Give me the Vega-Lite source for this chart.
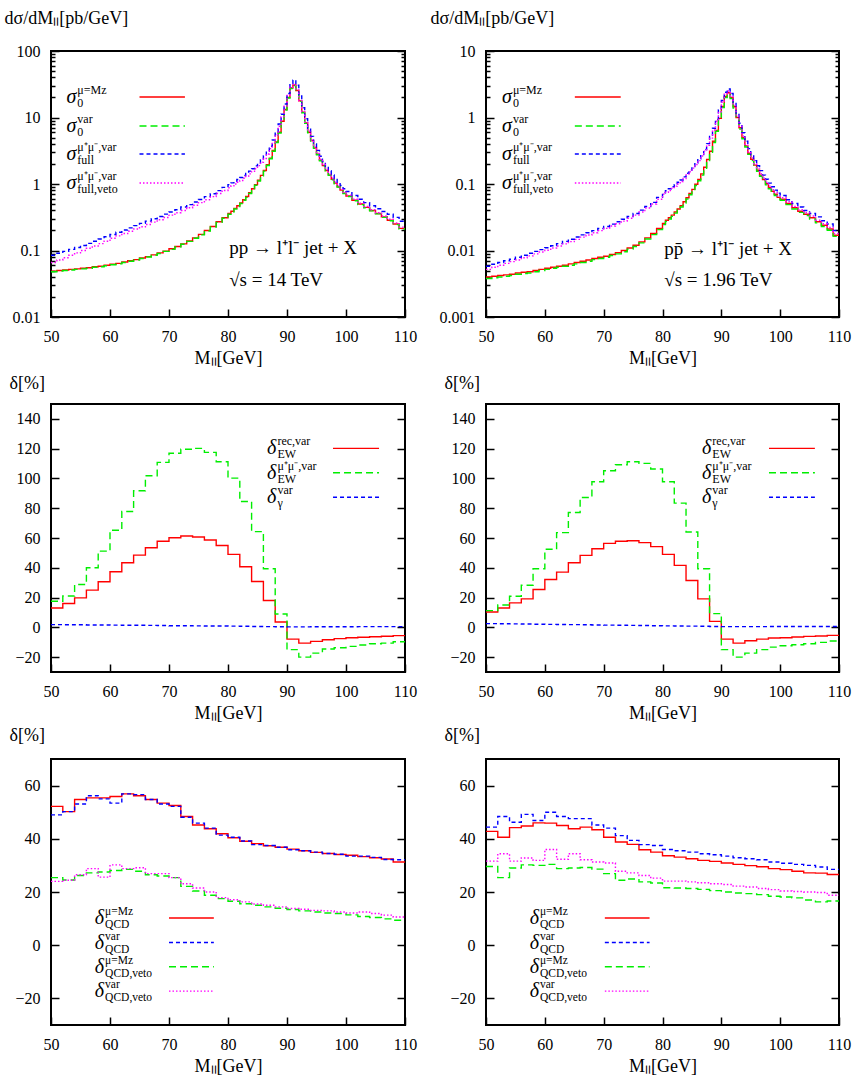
{
"$schema":"https://vega.github.io/schema/vega-lite/v6.json",
"padding":{"left":3,"top":8,"right":5,"bottom":5},
"background":"white",
"config":{
 "font":"Liberation Serif",
 "view":{"stroke":"#000","strokeWidth":2},
 "axis":{"domain":false,"grid":false,"tickColor":"#000","tickWidth":1.5,"tickSize":-8,"labelPadding":19,"labelFont":"Liberation Serif","labelFontSize":16,"labelColor":"#000","labelFlush":false,"labelOverlap":false,"titleFont":"Liberation Serif","titleFontSize":18,"titleFontWeight":"normal","titleColor":"#000"},
 "axisX":{"titlePadding":5},
 "axisY":{"titleAngle":0,"titleAlign":"left","titleBaseline":"middle"},
 "text":{"color":"#000"}
},
"datasets":{
"tl":[
{"x":50,"r":0.049,"g":0.048,"b":0.085,"m":0.066},{"x":51,"r":0.050,"g":0.049,"b":0.091,"m":0.072},{"x":52,"r":0.051,"g":0.050,"b":0.097,"m":0.078},{"x":53,"r":0.052,"g":0.051,"b":0.104,"m":0.085},{"x":54,"r":0.053,"g":0.052,"b":0.111,"m":0.092},{"x":55,"r":0.054,"g":0.053,"b":0.119,"m":0.100},{"x":56,"r":0.055,"g":0.054,"b":0.128,"m":0.108},{"x":57,"r":0.057,"g":0.056,"b":0.138,"m":0.117},{"x":58,"r":0.058,"g":0.057,"b":0.149,"m":0.127},{"x":59,"r":0.060,"g":0.059,"b":0.161,"m":0.138},
{"x":60,"r":0.062,"g":0.061,"b":0.174,"m":0.153},{"x":61,"r":0.064,"g":0.063,"b":0.188,"m":0.166},{"x":62,"r":0.067,"g":0.066,"b":0.203,"m":0.180},{"x":63,"r":0.070,"g":0.069,"b":0.219,"m":0.195},{"x":64,"r":0.073,"g":0.072,"b":0.237,"m":0.210},{"x":65,"r":0.077,"g":0.076,"b":0.256,"m":0.227},{"x":66,"r":0.081,"g":0.080,"b":0.277,"m":0.246},{"x":67,"r":0.086,"g":0.085,"b":0.300,"m":0.267},{"x":68,"r":0.092,"g":0.090,"b":0.325,"m":0.290},{"x":69,"r":0.098,"g":0.097,"b":0.352,"m":0.313},
{"x":70,"r":0.106,"g":0.104,"b":0.380,"m":0.340},{"x":71,"r":0.115,"g":0.113,"b":0.410,"m":0.370},{"x":72,"r":0.126,"g":0.124,"b":0.450,"m":0.400},{"x":73,"r":0.139,"g":0.137,"b":0.490,"m":0.440},{"x":74,"r":0.155,"g":0.153,"b":0.535,"m":0.480},{"x":75,"r":0.175,"g":0.172,"b":0.585,"m":0.525},{"x":76,"r":0.200,"g":0.196,"b":0.645,"m":0.580},{"x":77,"r":0.230,"g":0.226,"b":0.715,"m":0.645},{"x":78,"r":0.270,"g":0.265,"b":0.795,"m":0.720},{"x":79,"r":0.310,"g":0.305,"b":0.890,"m":0.800},
{"x":80,"r":0.36,"g":0.35,"b":0.98,"m":0.88},{"x":80.5,"r":0.39,"g":0.38,"b":1.04,"m":0.94},{"x":81,"r":0.43,"g":0.42,"b":1.10,"m":1.00},{"x":81.5,"r":0.47,"g":0.46,"b":1.17,"m":1.06},{"x":82,"r":0.52,"g":0.51,"b":1.25,"m":1.13},{"x":82.5,"r":0.58,"g":0.57,"b":1.34,"m":1.22},{"x":83,"r":0.65,"g":0.63,"b":1.44,"m":1.31},{"x":83.5,"r":0.74,"g":0.72,"b":1.56,"m":1.42},{"x":84,"r":0.85,"g":0.83,"b":1.70,"m":1.55},{"x":84.5,"r":0.98,"g":0.96,"b":1.87,"m":1.70},
{"x":85,"r":1.14,"g":1.11,"b":2.07,"m":1.89},{"x":85.5,"r":1.35,"g":1.32,"b":2.32,"m":2.12},{"x":86,"r":1.60,"g":1.56,"b":2.65,"m":2.42},{"x":86.5,"r":1.95,"g":1.90,"b":3.10,"m":2.83},{"x":87,"r":2.45,"g":2.40,"b":3.70,"m":3.40},{"x":87.5,"r":3.2,"g":3.1,"b":4.6,"m":4.2},{"x":88,"r":4.3,"g":4.2,"b":6.0,"m":5.5},{"x":88.5,"r":6.0,"g":5.85,"b":8.0,"m":7.4},{"x":89,"r":8.8,"g":8.6,"b":11.2,"m":10.3},{"x":89.5,"r":13.2,"g":12.9,"b":16,"m":14.8},
{"x":90,"r":20,"g":19.6,"b":23,"m":21.5},{"x":90.5,"r":27.8,"g":27.3,"b":31,"m":28.5},{"x":91,"r":30.8,"g":30.2,"b":36.5,"m":31.5},{"x":91.5,"r":25.5,"g":25,"b":30.5,"m":26},{"x":92,"r":17.8,"g":17.5,"b":21,"m":18},{"x":92.5,"r":12,"g":11.8,"b":14,"m":12.2},{"x":93,"r":8.3,"g":8.15,"b":9.6,"m":8.5},{"x":93.5,"r":6.0,"g":5.9,"b":6.9,"m":6.2},{"x":94,"r":4.5,"g":4.42,"b":5.2,"m":4.6},{"x":94.5,"r":3.5,"g":3.44,"b":4.0,"m":3.6},
{"x":95,"r":2.8,"g":2.75,"b":3.2,"m":2.88},{"x":95.5,"r":2.28,"g":2.24,"b":2.62,"m":2.35},{"x":96,"r":1.9,"g":1.87,"b":2.18,"m":1.96},{"x":96.5,"r":1.6,"g":1.57,"b":1.84,"m":1.65},{"x":97,"r":1.37,"g":1.35,"b":1.58,"m":1.41},{"x":97.5,"r":1.18,"g":1.16,"b":1.37,"m":1.22},{"x":98,"r":1.03,"g":1.01,"b":1.2,"m":1.06},{"x":98.5,"r":0.91,"g":0.9,"b":1.06,"m":0.94},{"x":99,"r":0.81,"g":0.8,"b":0.95,"m":0.83},{"x":99.5,"r":0.73,"g":0.72,"b":0.85,"m":0.75},
{"x":100,"r":0.66,"g":0.65,"b":0.77,"m":0.68},{"x":101,"r":0.57,"g":0.56,"b":0.67,"m":0.59},{"x":102,"r":0.50,"g":0.49,"b":0.59,"m":0.515},{"x":103,"r":0.445,"g":0.44,"b":0.525,"m":0.46},{"x":104,"r":0.40,"g":0.395,"b":0.47,"m":0.41},{"x":105,"r":0.36,"g":0.355,"b":0.425,"m":0.37},{"x":106,"r":0.32,"g":0.315,"b":0.385,"m":0.33},{"x":107,"r":0.285,"g":0.28,"b":0.35,"m":0.295},{"x":108,"r":0.25,"g":0.245,"b":0.315,"m":0.26},{"x":109,"r":0.215,"g":0.21,"b":0.275,"m":0.225},{"x":110,"r":0.215,"g":0.21,"b":0.275,"m":0.225}
],
"tr":[
{"x":50,"r":0.0040,"g":0.0038,"b":0.0058,"m":0.0052},{"x":51,"r":0.0041,"g":0.0039,"b":0.0062,"m":0.0056},{"x":52,"r":0.0042,"g":0.0040,"b":0.0066,"m":0.0060},{"x":53,"r":0.0043,"g":0.0041,"b":0.0070,"m":0.0064},{"x":54,"r":0.0044,"g":0.0042,"b":0.0074,"m":0.0068},{"x":55,"r":0.0046,"g":0.0044,"b":0.0079,"m":0.0072},{"x":56,"r":0.0047,"g":0.0045,"b":0.0085,"m":0.0078},{"x":57,"r":0.0048,"g":0.0046,"b":0.0091,"m":0.0083},{"x":58,"r":0.0050,"g":0.0048,"b":0.0097,"m":0.0089},{"x":59,"r":0.0052,"g":0.0050,"b":0.0103,"m":0.0095},
{"x":60,"r":0.0054,"g":0.0052,"b":0.0110,"m":0.0101},{"x":61,"r":0.0056,"g":0.0054,"b":0.0118,"m":0.0109},{"x":62,"r":0.0058,"g":0.0056,"b":0.0127,"m":0.0117},{"x":63,"r":0.0060,"g":0.0058,"b":0.0137,"m":0.0126},{"x":64,"r":0.0063,"g":0.0060,"b":0.0148,"m":0.0136},{"x":65,"r":0.0066,"g":0.0063,"b":0.0160,"m":0.0147},{"x":66,"r":0.0069,"g":0.0066,"b":0.0172,"m":0.0159},{"x":67,"r":0.0072,"g":0.0069,"b":0.0185,"m":0.0171},{"x":68,"r":0.0076,"g":0.0073,"b":0.0199,"m":0.0185},{"x":69,"r":0.0079,"g":0.0076,"b":0.0214,"m":0.0199},
{"x":70,"r":0.0082,"g":0.0079,"b":0.0230,"m":0.0215},{"x":71,"r":0.0087,"g":0.0084,"b":0.0249,"m":0.0233},{"x":72,"r":0.0093,"g":0.0089,"b":0.0270,"m":0.0253},{"x":73,"r":0.0100,"g":0.0096,"b":0.0295,"m":0.0277},{"x":74,"r":0.0109,"g":0.0105,"b":0.0325,"m":0.0305},{"x":75,"r":0.0120,"g":0.0115,"b":0.0360,"m":0.0340},{"x":76,"r":0.0135,"g":0.0130,"b":0.0405,"m":0.0380},{"x":77,"r":0.0155,"g":0.0149,"b":0.0460,"m":0.0435},{"x":78,"r":0.0180,"g":0.0173,"b":0.0530,"m":0.0500},{"x":79,"r":0.0215,"g":0.0206,"b":0.0630,"m":0.0590},
{"x":80,"r":0.0255,"g":0.0245,"b":0.074,"m":0.070},{"x":80.5,"r":0.0285,"g":0.0274,"b":0.079,"m":0.075},{"x":81,"r":0.031,"g":0.0298,"b":0.085,"m":0.080},{"x":81.5,"r":0.034,"g":0.0326,"b":0.091,"m":0.086},{"x":82,"r":0.038,"g":0.0365,"b":0.098,"m":0.093},{"x":82.5,"r":0.042,"g":0.0403,"b":0.106,"m":0.100},{"x":83,"r":0.047,"g":0.045,"b":0.115,"m":0.109},{"x":83.5,"r":0.054,"g":0.0518,"b":0.128,"m":0.121},{"x":84,"r":0.062,"g":0.0595,"b":0.145,"m":0.137},{"x":84.5,"r":0.072,"g":0.069,"b":0.162,"m":0.153},
{"x":85,"r":0.083,"g":0.080,"b":0.183,"m":0.173},{"x":85.5,"r":0.099,"g":0.095,"b":0.207,"m":0.196},{"x":86,"r":0.117,"g":0.112,"b":0.238,"m":0.225},{"x":86.5,"r":0.142,"g":0.136,"b":0.278,"m":0.263},{"x":87,"r":0.179,"g":0.172,"b":0.33,"m":0.312},{"x":87.5,"r":0.234,"g":0.225,"b":0.405,"m":0.383},{"x":88,"r":0.31,"g":0.30,"b":0.52,"m":0.49},{"x":88.5,"r":0.44,"g":0.42,"b":0.69,"m":0.65},{"x":89,"r":0.64,"g":0.62,"b":0.93,"m":0.88},{"x":89.5,"r":0.97,"g":0.93,"b":1.3,"m":1.22},
{"x":90,"r":1.47,"g":1.41,"b":1.8,"m":1.7},{"x":90.5,"r":2.07,"g":1.99,"b":2.4,"m":2.25},{"x":91,"r":2.36,"g":2.27,"b":2.68,"m":2.5},{"x":91.5,"r":2.0,"g":1.92,"b":2.3,"m":2.1},{"x":92,"r":1.45,"g":1.39,"b":1.68,"m":1.52},{"x":92.5,"r":1.0,"g":0.96,"b":1.17,"m":1.05},{"x":93,"r":0.70,"g":0.67,"b":0.82,"m":0.74},{"x":93.5,"r":0.50,"g":0.48,"b":0.59,"m":0.53},{"x":94,"r":0.375,"g":0.36,"b":0.44,"m":0.395},{"x":94.5,"r":0.29,"g":0.28,"b":0.34,"m":0.305},
{"x":95,"r":0.235,"g":0.226,"b":0.275,"m":0.247},{"x":95.5,"r":0.192,"g":0.184,"b":0.225,"m":0.202},{"x":96,"r":0.161,"g":0.155,"b":0.188,"m":0.169},{"x":96.5,"r":0.136,"g":0.131,"b":0.159,"m":0.143},{"x":97,"r":0.117,"g":0.112,"b":0.136,"m":0.123},{"x":97.5,"r":0.101,"g":0.097,"b":0.118,"m":0.106},{"x":98,"r":0.088,"g":0.085,"b":0.103,"m":0.093},{"x":98.5,"r":0.078,"g":0.075,"b":0.091,"m":0.082},{"x":99,"r":0.070,"g":0.067,"b":0.081,"m":0.074},{"x":99.5,"r":0.063,"g":0.060,"b":0.073,"m":0.066},
{"x":100,"r":0.059,"g":0.057,"b":0.067,"m":0.062},{"x":101,"r":0.051,"g":0.049,"b":0.058,"m":0.054},{"x":102,"r":0.044,"g":0.042,"b":0.051,"m":0.046},{"x":103,"r":0.039,"g":0.0375,"b":0.045,"m":0.041},{"x":104,"r":0.035,"g":0.0336,"b":0.040,"m":0.037},{"x":105,"r":0.031,"g":0.0298,"b":0.036,"m":0.033},{"x":106,"r":0.027,"g":0.026,"b":0.032,"m":0.0285},{"x":107,"r":0.024,"g":0.023,"b":0.028,"m":0.0253},{"x":108,"r":0.021,"g":0.0202,"b":0.025,"m":0.0222},{"x":109,"r":0.017,"g":0.0163,"b":0.020,"m":0.018},{"x":110,"r":0.017,"g":0.0163,"b":0.020,"m":0.018}
],
"ml":[
{"x":50,"r":13,"g":17.5,"b":1.8},{"x":52,"r":16,"g":21,"b":1.75},{"x":54,"r":19.8,"g":28.8,"b":1.7},{"x":56,"r":25,"g":40,"b":1.6},{"x":58,"r":30.6,"g":51.2,"b":1.55},{"x":60,"r":37.3,"g":65.2,"b":1.5},{"x":62,"r":43.4,"g":77.8,"b":1.4},{"x":64,"r":48.5,"g":91.7,"b":1.35},{"x":66,"r":53.5,"g":101.8,"b":1.3},{"x":68,"r":57.8,"g":110.8,"b":1.2},
{"x":70,"r":60.2,"g":116.9,"b":1.1},{"x":72,"r":61.3,"g":119.6,"b":1.05},{"x":74,"r":60.7,"g":120.2,"b":1.0},{"x":76,"r":58.7,"g":117.5,"b":0.9},{"x":78,"r":55,"g":111.2,"b":0.85},{"x":80,"r":49,"g":100.2,"b":0.8},{"x":82,"r":40.7,"g":84.5,"b":0.7},{"x":84,"r":30.8,"g":64.3,"b":0.6},{"x":86,"r":18,"g":39.3,"b":0.5},{"x":88,"r":3.6,"g":9,"b":0.4},
{"x":90,"r":-7.9,"g":-15,"b":0.3},{"x":92,"r":-10.6,"g":-20,"b":0.3},{"x":94,"r":-9.4,"g":-17.3,"b":0.35},{"x":96,"r":-8.3,"g":-14.6,"b":0.35},{"x":98,"r":-7.6,"g":-13.7,"b":0.4},{"x":100,"r":-7,"g":-12.8,"b":0.4},{"x":102,"r":-6.7,"g":-11.9,"b":0.45},{"x":104,"r":-6.3,"g":-11,"b":0.45},{"x":106,"r":-6,"g":-10.6,"b":0.5},{"x":108,"r":-5.6,"g":-9.7,"b":0.5},{"x":110,"r":-5.6,"g":-9.7,"b":0.5}
],
"mr":[
{"x":50,"r":10.3,"g":11.2,"b":2.5},{"x":52,"r":13,"g":15,"b":2.4},{"x":54,"r":16.4,"g":20.9,"b":2.3},{"x":56,"r":19.1,"g":28.3,"b":2.2},{"x":58,"r":25.4,"g":39.3,"b":2.1},{"x":60,"r":32.1,"g":52.4,"b":2.0},{"x":62,"r":37.1,"g":63.6,"b":1.9},{"x":64,"r":43.4,"g":77.1,"b":1.8},{"x":66,"r":48.3,"g":87.2,"b":1.7},{"x":68,"r":52.8,"g":97.8,"b":1.6},
{"x":70,"r":56.4,"g":105.2,"b":1.5},{"x":72,"r":57.8,"g":109.2,"b":1.4},{"x":74,"r":58.2,"g":111.2,"b":1.3},{"x":76,"r":56.9,"g":110.1,"b":1.2},{"x":78,"r":54.2,"g":106.3,"b":1.1},{"x":80,"r":49,"g":97.8,"b":1.0},{"x":82,"r":41.6,"g":83.4,"b":0.9},{"x":84,"r":31.5,"g":64,"b":0.8},{"x":86,"r":19.1,"g":39.3,"b":0.7},{"x":88,"r":4,"g":9.2,"b":0.6},
{"x":90,"r":-7.9,"g":-15,"b":0.5},{"x":92,"r":-10.6,"g":-20,"b":0.5},{"x":94,"r":-9,"g":-17.3,"b":0.5},{"x":96,"r":-7.9,"g":-15,"b":0.5},{"x":98,"r":-7.2,"g":-13.3,"b":0.55},{"x":100,"r":-7,"g":-12.4,"b":0.55},{"x":102,"r":-6.5,"g":-11.7,"b":0.6},{"x":104,"r":-6.1,"g":-11,"b":0.6},{"x":106,"r":-5.8,"g":-10.1,"b":0.6},{"x":108,"r":-5.4,"g":-9.2,"b":0.6},{"x":110,"r":-5.4,"g":-9.2,"b":0.6}
],
"bl":[
{"x":50,"r":52.2,"b":49,"g":25.4,"m":24},{"x":52,"r":50.2,"b":50.2,"g":24.5,"m":24.4},{"x":54,"r":54.8,"b":53.1,"g":26.2,"m":26.5},{"x":56,"r":55.4,"b":56.2,"g":27.2,"m":28.8},{"x":58,"r":55.4,"b":55,"g":27.5,"m":25.6},{"x":60,"r":55.9,"b":53.4,"g":28.1,"m":30.2},{"x":62,"r":56.9,"b":56.9,"g":28.5,"m":28.8},{"x":64,"r":56.2,"b":56.6,"g":27.8,"m":29.1},{"x":66,"r":54.8,"b":54.8,"g":26.5,"m":26.9},{"x":68,"r":53.4,"b":53.1,"g":26,"m":26.9},
{"x":70,"r":52.5,"b":52.2,"g":25.4,"m":25.4},{"x":72,"r":48.4,"b":48.1,"g":22.1,"m":23.1},{"x":74,"r":45.2,"b":45.9,"g":20.4,"m":21.5},{"x":76,"r":43.8,"b":44,"g":18.8,"m":20},{"x":78,"r":41.9,"b":41.4,"g":17.5,"m":17.9},{"x":80,"r":40.4,"b":40.6,"g":16.5,"m":17.1},{"x":82,"r":39.1,"b":39.2,"g":15.6,"m":16.3},{"x":84,"r":38.2,"b":37.8,"g":15,"m":15.5},{"x":86,"r":37.4,"b":37.5,"g":14.4,"m":15},{"x":88,"r":36.8,"b":36.8,"g":13.9,"m":14.4},
{"x":90,"r":36.1,"b":35.9,"g":13.4,"m":13.8},{"x":92,"r":35.5,"b":35.5,"g":12.9,"m":13.5},{"x":94,"r":34.9,"b":35,"g":12.5,"m":13.1},{"x":96,"r":34.5,"b":34.5,"g":12.1,"m":12.9},{"x":98,"r":34.1,"b":34.2,"g":11.9,"m":12.5},{"x":100,"r":33.8,"b":33.5,"g":11.4,"m":12.1},{"x":102,"r":33.3,"b":33.5,"g":10.8,"m":12.5},{"x":104,"r":32.9,"b":33,"g":10.4,"m":11.9},{"x":106,"r":32.4,"b":32.2,"g":9.9,"m":11.3},{"x":108,"r":31.3,"b":32.1,"g":9.4,"m":10.6},{"x":110,"r":31.3,"b":32.1,"g":9.4,"m":10.6}
],
"br":[
{"x":50,"r":42.8,"b":44.4,"g":29.6,"m":31.6},{"x":52,"r":40.6,"b":48.4,"g":25.4,"m":34.4},{"x":54,"r":44.2,"b":46.2,"g":29,"m":31.6},{"x":56,"r":44.8,"b":49.2,"g":30.2,"m":32.8},{"x":58,"r":46,"b":46.9,"g":30,"m":31.9},{"x":60,"r":45.9,"b":50,"g":30.4,"m":36},{"x":62,"r":45,"b":48.4,"g":28.8,"m":32.3},{"x":64,"r":43.8,"b":47.6,"g":29,"m":34.4},{"x":66,"r":44.4,"b":47.6,"g":29.2,"m":32.1},{"x":68,"r":43.4,"b":45.2,"g":28.6,"m":31.3},
{"x":70,"r":40.6,"b":44,"g":26.9,"m":30.9},{"x":72,"r":38.8,"b":41.2,"g":24.4,"m":27.8},{"x":74,"r":37.9,"b":39.4,"g":24.9,"m":27.2},{"x":76,"r":35.9,"b":37.8,"g":23.8,"m":26.2},{"x":78,"r":35,"b":37.5,"g":23.4,"m":25.2},{"x":80,"r":33.6,"b":36,"g":21.6,"m":24.1},{"x":82,"r":33.1,"b":35.5,"g":21.5,"m":24.1},{"x":84,"r":32.5,"b":35,"g":21.3,"m":23.8},{"x":86,"r":31.9,"b":34.4,"g":21,"m":23.5},{"x":88,"r":31.5,"b":34,"g":20.5,"m":23.1},
{"x":90,"r":30.9,"b":33.5,"g":20,"m":22.8},{"x":92,"r":30.4,"b":32.9,"g":19.6,"m":22.2},{"x":94,"r":29.9,"b":32.5,"g":19.4,"m":21.9},{"x":96,"r":29.5,"b":32.1,"g":19,"m":21.3},{"x":98,"r":28.8,"b":31.3,"g":18.4,"m":20.9},{"x":100,"r":28.4,"b":30.8,"g":18.1,"m":20.4},{"x":102,"r":27.8,"b":30.4,"g":17.8,"m":20.2},{"x":104,"r":27.2,"b":30,"g":17,"m":20},{"x":106,"r":27.1,"b":29.4,"g":16.3,"m":19.8},{"x":108,"r":26.6,"b":28.5,"g":16.6,"m":18.8},{"x":110,"r":26.6,"b":28.5,"g":16.6,"m":18.8}
],
"tl_leg":[{"s":"r","y":20.3,"m":"σ","sup":"μ=Mz","sub":"0"},{"s":"g","y":7.45,"m":"σ","sup":"var","sub":"0"},{"s":"b","y":2.83,"m":"σ","sup":"μ⁺μ⁻,var","sub":"full"},{"s":"m","y":1.035,"m":"σ","sup":"μ⁺μ⁻,var","sub":"full,veto"}],
"tr_leg":[{"s":"r","y":2.03,"m":"σ","sup":"μ=Mz","sub":"0"},{"s":"g","y":0.745,"m":"σ","sup":"var","sub":"0"},{"s":"b","y":0.283,"m":"σ","sup":"μ⁺μ⁻,var","sub":"full"},{"s":"m","y":0.1035,"m":"σ","sup":"μ⁺μ⁻,var","sub":"full,veto"}],
"ml_leg":[{"s":"r","y":120.2,"m":"δ","sup":"rec,var","sub":"EW"},{"s":"g","y":103.8,"m":"δ","sup":"μ⁺μ⁻,var","sub":"EW"},{"s":"b","y":87.4,"m":"δ","sup":"var","sub":"γ"}],
"mr_leg":[{"s":"r","y":120.2,"m":"δ","sup":"rec,var","sub":"EW"},{"s":"g","y":103.8,"m":"δ","sup":"μ⁺μ⁻,var","sub":"EW"},{"s":"b","y":87.4,"m":"δ","sup":"var","sub":"γ"}],
"bl_leg":[{"s":"r","y":10.25,"m":"δ","sup":"μ=Mz","sub":"QCD"},{"s":"b","y":1,"m":"δ","sup":"var","sub":"QCD"},{"s":"g","y":-8.1,"m":"δ","sup":"μ=Mz","sub":"QCD,veto"},{"s":"m","y":-17.25,"m":"δ","sup":"var","sub":"QCD,veto"}],
"br_leg":[{"s":"r","y":10.25,"m":"δ","sup":"μ=Mz","sub":"QCD"},{"s":"b","y":1,"m":"δ","sup":"var","sub":"QCD"},{"s":"g","y":-8.1,"m":"δ","sup":"μ=Mz","sub":"QCD,veto"},{"s":"m","y":-17.25,"m":"δ","sup":"var","sub":"QCD,veto"}],
"tl_ann":[{"x":80.2,"y":0.11,"t":"pp → l⁺l⁻ jet + X"},{"x":80.2,"y":0.036,"t":"√s = 14 TeV"}],
"tr_ann":[{"x":80.3,"y":0.0105,"t":"pp̄ → l⁺l⁻ jet + X"},{"x":80.3,"y":0.0036,"t":"√s = 1.96 TeV"}]
},
"columns":2,
"spacing":{"row":87,"column":81},
"bounds":"flush",
"concat":[
 {"width":354,"height":266,
  "layer":[
   {"data":{"name":"tl"},"transform":[{"fold":["r","g","b","m"],"as":["s","v"]}],
    "mark":{"type":"line","interpolate":"step-after","strokeWidth":1.4,"clip":true},
    "encoding":{
     "x":{"field":"x","type":"quantitative","scale":{"domain":[50,110],"nice":false,"zero":false},"axis":{"orient":"bottom","values":[50,60,70,80,90,100,110],"title":"Mₗₗ[GeV]"}},
     "y":{"field":"v","type":"quantitative","scale":{"type":"log","domain":[0.01,100],"nice":false},"axis":{"orient":"left","values":[0.01,0.1,1,10,100],"format":"~g","title":"dσ/dMₗₗ[pb/GeV]","titleX":-47,"titleY":-33}},
     "color":{"field":"s","type":"nominal","scale":{"domain":["r","g","b","m"],"range":["#ff0000","#00ee00","#0000ff","#ff00ff"]},"legend":null},
     "strokeDash":{"field":"s","type":"nominal","scale":{"domain":["r","g","b","m"],"range":[[1,0],[7,4],[4,3],[1.5,2]]},"legend":null}}},
   {"data":{"name":"tl_leg"},"mark":{"type":"rule","strokeWidth":1.4},
    "encoding":{"x":{"datum":65,"axis":null},"x2":{"datum":72.7},"y":{"field":"y","type":"quantitative","axis":null},
     "color":{"field":"s","type":"nominal","legend":null},"strokeDash":{"field":"s","type":"nominal","legend":null}}},
   {"data":{"name":"tl_leg"},"mark":{"type":"text","align":"right","baseline":"middle","fontSize":20,"fontStyle":"italic"},
    "encoding":{"x":{"datum":54.3,"axis":null},"y":{"field":"y","type":"quantitative","axis":{"orient":"right","values":[0.01,0.1,1,10,100],"labels":false,"title":null}},"text":{"field":"m"}}},
   {"data":{"name":"tl_leg"},"mark":{"type":"text","align":"left","baseline":"alphabetic","dy":-3,"dx":1,"fontSize":12},
    "encoding":{"x":{"datum":54.3,"axis":null},"y":{"field":"y","type":"quantitative","axis":{"orient":"left","values":[0.02,0.03,0.04,0.05,0.06,0.07,0.08,0.09,0.2,0.3,0.4,0.5,0.6,0.7,0.8,0.9,2,3,4,5,6,7,8,9,20,30,40,50,60,70,80,90],"labels":false,"title":null,"tickSize":-4}},"text":{"field":"sup"}}},
   {"data":{"name":"tl_leg"},"mark":{"type":"text","align":"left","baseline":"top","dy":1,"dx":1,"fontSize":12},
    "encoding":{"x":{"datum":54.3,"axis":null},"y":{"field":"y","type":"quantitative","axis":{"orient":"right","values":[0.02,0.03,0.04,0.05,0.06,0.07,0.08,0.09,0.2,0.3,0.4,0.5,0.6,0.7,0.8,0.9,2,3,4,5,6,7,8,9,20,30,40,50,60,70,80,90],"labels":false,"title":null,"tickSize":-4}},"text":{"field":"sub"}}},
   {"data":{"name":"tl_ann"},"mark":{"type":"text","align":"left","baseline":"middle","fontSize":19},
    "encoding":{"x":{"field":"x","type":"quantitative","axis":null},"y":{"field":"y","type":"quantitative","axis":null},"text":{"field":"t"}}}
  ],
  "resolve":{"axis":{"x":"independent","y":"independent"}}},
 {"width":353,"height":266,
  "layer":[
   {"data":{"name":"tr"},"transform":[{"fold":["r","g","b","m"],"as":["s","v"]}],
    "mark":{"type":"line","interpolate":"step-after","strokeWidth":1.4,"clip":true},
    "encoding":{
     "x":{"field":"x","type":"quantitative","scale":{"domain":[50,110],"nice":false,"zero":false},"axis":{"orient":"bottom","values":[50,60,70,80,90,100,110],"title":"Mₗₗ[GeV]"}},
     "y":{"field":"v","type":"quantitative","scale":{"type":"log","domain":[0.001,10],"nice":false},"axis":{"orient":"left","values":[0.001,0.01,0.1,1,10],"format":"~g","title":"dσ/dMₗₗ[pb/GeV]","titleX":-56,"titleY":-33}},
     "color":{"field":"s","type":"nominal","scale":{"domain":["r","g","b","m"],"range":["#ff0000","#00ee00","#0000ff","#ff00ff"]},"legend":null},
     "strokeDash":{"field":"s","type":"nominal","scale":{"domain":["r","g","b","m"],"range":[[1,0],[7,4],[4,3],[1.5,2]]},"legend":null}}},
   {"data":{"name":"tr_leg"},"mark":{"type":"rule","strokeWidth":1.4},
    "encoding":{"x":{"datum":65.1,"axis":null},"x2":{"datum":72.9},"y":{"field":"y","type":"quantitative","axis":null},
     "color":{"field":"s","type":"nominal","legend":null},"strokeDash":{"field":"s","type":"nominal","legend":null}}},
   {"data":{"name":"tr_leg"},"mark":{"type":"text","align":"right","baseline":"middle","fontSize":20,"fontStyle":"italic"},
    "encoding":{"x":{"datum":54.4,"axis":null},"y":{"field":"y","type":"quantitative","axis":{"orient":"right","values":[0.001,0.01,0.1,1,10],"labels":false,"title":null}},"text":{"field":"m"}}},
   {"data":{"name":"tr_leg"},"mark":{"type":"text","align":"left","baseline":"alphabetic","dy":-3,"dx":1,"fontSize":12},
    "encoding":{"x":{"datum":54.4,"axis":null},"y":{"field":"y","type":"quantitative","axis":{"orient":"left","values":[0.002,0.003,0.004,0.005,0.006,0.007,0.008,0.009,0.02,0.03,0.04,0.05,0.06,0.07,0.08,0.09,0.2,0.3,0.4,0.5,0.6,0.7,0.8,0.9,2,3,4,5,6,7,8,9],"labels":false,"title":null,"tickSize":-4}},"text":{"field":"sup"}}},
   {"data":{"name":"tr_leg"},"mark":{"type":"text","align":"left","baseline":"top","dy":1,"dx":1,"fontSize":12},
    "encoding":{"x":{"datum":54.4,"axis":null},"y":{"field":"y","type":"quantitative","axis":{"orient":"right","values":[0.002,0.003,0.004,0.005,0.006,0.007,0.008,0.009,0.02,0.03,0.04,0.05,0.06,0.07,0.08,0.09,0.2,0.3,0.4,0.5,0.6,0.7,0.8,0.9,2,3,4,5,6,7,8,9],"labels":false,"title":null,"tickSize":-4}},"text":{"field":"sub"}}},
   {"data":{"name":"tr_ann"},"mark":{"type":"text","align":"left","baseline":"middle","fontSize":19},
    "encoding":{"x":{"field":"x","type":"quantitative","axis":null},"y":{"field":"y","type":"quantitative","axis":null},"text":{"field":"t"}}}
  ],
  "resolve":{"axis":{"x":"independent","y":"independent"}}},
 {"width":354,"height":268,
  "layer":[
   {"data":{"name":"ml"},"transform":[{"fold":["r","g","b"],"as":["s","v"]}],
    "mark":{"type":"line","interpolate":"step-after","strokeWidth":1.4,"clip":true},
    "encoding":{
     "x":{"field":"x","type":"quantitative","scale":{"domain":[50,110],"nice":false,"zero":false},"axis":{"orient":"bottom","values":[50,60,70,80,90,100,110],"title":"Mₗₗ[GeV]"}},
     "y":{"field":"v","type":"quantitative","scale":{"domain":[-30,150],"nice":false,"zero":false},"axis":{"orient":"left","values":[-20,0,20,40,60,80,100,120,140],"title":"δ[%]","titleX":-42,"titleY":-21}},
     "color":{"field":"s","type":"nominal","scale":{"domain":["r","g","b","m"],"range":["#ff0000","#00ee00","#0000ff","#ff00ff"]},"legend":null},
     "strokeDash":{"field":"s","type":"nominal","scale":{"domain":["r","g","b","m"],"range":[[1,0],[7,4],[4,3],[1.5,2]]},"legend":null}}},
   {"data":{"name":"ml_leg"},"mark":{"type":"rule","strokeWidth":1.4},
    "encoding":{"x":{"datum":97.8,"axis":null},"x2":{"datum":105.6},"y":{"field":"y","type":"quantitative","axis":null},
     "color":{"field":"s","type":"nominal","legend":null},"strokeDash":{"field":"s","type":"nominal","legend":null}}},
   {"data":{"name":"ml_leg"},"mark":{"type":"text","align":"right","baseline":"middle","fontSize":20,"fontStyle":"italic"},
    "encoding":{"x":{"datum":88.2,"axis":null},"y":{"field":"y","type":"quantitative","axis":{"orient":"right","values":[-20,0,20,40,60,80,100,120,140],"labels":false,"title":null}},"text":{"field":"m"}}},
   {"data":{"name":"ml_leg"},"mark":{"type":"text","align":"left","baseline":"alphabetic","dy":-3,"dx":1,"fontSize":12},
    "encoding":{"x":{"datum":88.2,"axis":null},"y":{"field":"y","type":"quantitative","axis":null},"text":{"field":"sup"}}},
   {"data":{"name":"ml_leg"},"mark":{"type":"text","align":"left","baseline":"top","dy":1,"dx":1,"fontSize":12},
    "encoding":{"x":{"datum":88.2,"axis":null},"y":{"field":"y","type":"quantitative","axis":null},"text":{"field":"sub"}}}
  ],
  "resolve":{"axis":{"x":"independent","y":"independent"}}},
 {"width":353,"height":268,
  "layer":[
   {"data":{"name":"mr"},"transform":[{"fold":["r","g","b"],"as":["s","v"]}],
    "mark":{"type":"line","interpolate":"step-after","strokeWidth":1.4,"clip":true},
    "encoding":{
     "x":{"field":"x","type":"quantitative","scale":{"domain":[50,110],"nice":false,"zero":false},"axis":{"orient":"bottom","values":[50,60,70,80,90,100,110],"title":"Mₗₗ[GeV]"}},
     "y":{"field":"v","type":"quantitative","scale":{"domain":[-30,150],"nice":false,"zero":false},"axis":{"orient":"left","values":[-20,0,20,40,60,80,100,120,140],"title":"δ[%]","titleX":-42,"titleY":-21}},
     "color":{"field":"s","type":"nominal","scale":{"domain":["r","g","b","m"],"range":["#ff0000","#00ee00","#0000ff","#ff00ff"]},"legend":null},
     "strokeDash":{"field":"s","type":"nominal","scale":{"domain":["r","g","b","m"],"range":[[1,0],[7,4],[4,3],[1.5,2]]},"legend":null}}},
   {"data":{"name":"mr_leg"},"mark":{"type":"rule","strokeWidth":1.4},
    "encoding":{"x":{"datum":98.1,"axis":null},"x2":{"datum":105.9},"y":{"field":"y","type":"quantitative","axis":null},
     "color":{"field":"s","type":"nominal","legend":null},"strokeDash":{"field":"s","type":"nominal","legend":null}}},
   {"data":{"name":"mr_leg"},"mark":{"type":"text","align":"right","baseline":"middle","fontSize":20,"fontStyle":"italic"},
    "encoding":{"x":{"datum":88.3,"axis":null},"y":{"field":"y","type":"quantitative","axis":{"orient":"right","values":[-20,0,20,40,60,80,100,120,140],"labels":false,"title":null}},"text":{"field":"m"}}},
   {"data":{"name":"mr_leg"},"mark":{"type":"text","align":"left","baseline":"alphabetic","dy":-3,"dx":1,"fontSize":12},
    "encoding":{"x":{"datum":88.3,"axis":null},"y":{"field":"y","type":"quantitative","axis":null},"text":{"field":"sup"}}},
   {"data":{"name":"mr_leg"},"mark":{"type":"text","align":"left","baseline":"top","dy":1,"dx":1,"fontSize":12},
    "encoding":{"x":{"datum":88.3,"axis":null},"y":{"field":"y","type":"quantitative","axis":null},"text":{"field":"sub"}}}
  ],
  "resolve":{"axis":{"x":"independent","y":"independent"}}},
 {"width":354,"height":266,
  "layer":[
   {"data":{"name":"bl"},"transform":[{"fold":["r","b","g","m"],"as":["s","v"]}],
    "mark":{"type":"line","interpolate":"step-after","strokeWidth":1.4,"clip":true},
    "encoding":{
     "x":{"field":"x","type":"quantitative","scale":{"domain":[50,110],"nice":false,"zero":false},"axis":{"orient":"bottom","values":[50,60,70,80,90,100,110],"title":"Mₗₗ[GeV]"}},
     "y":{"field":"v","type":"quantitative","scale":{"domain":[-30,70],"nice":false,"zero":false},"axis":{"orient":"left","values":[-20,0,20,40,60],"title":"δ[%]","titleX":-42,"titleY":-24}},
     "color":{"field":"s","type":"nominal","scale":{"domain":["r","g","b","m"],"range":["#ff0000","#00ee00","#0000ff","#ff00ff"]},"legend":null},
     "strokeDash":{"field":"s","type":"nominal","scale":{"domain":["r","g","b","m"],"range":[[1,0],[7,4],[4,3],[1.5,2]]},"legend":null}}},
   {"data":{"name":"bl_leg"},"mark":{"type":"rule","strokeWidth":1.4},
    "encoding":{"x":{"datum":70,"axis":null},"x2":{"datum":77.6},"y":{"field":"y","type":"quantitative","axis":null},
     "color":{"field":"s","type":"nominal","legend":null},"strokeDash":{"field":"s","type":"nominal","legend":null}}},
   {"data":{"name":"bl_leg"},"mark":{"type":"text","align":"right","baseline":"middle","fontSize":20,"fontStyle":"italic"},
    "encoding":{"x":{"datum":59,"axis":null},"y":{"field":"y","type":"quantitative","axis":{"orient":"right","values":[-20,0,20,40,60],"labels":false,"title":null}},"text":{"field":"m"}}},
   {"data":{"name":"bl_leg"},"mark":{"type":"text","align":"left","baseline":"alphabetic","dy":-3,"dx":1,"fontSize":11.5},
    "encoding":{"x":{"datum":59,"axis":null},"y":{"field":"y","type":"quantitative","axis":null},"text":{"field":"sup"}}},
   {"data":{"name":"bl_leg"},"mark":{"type":"text","align":"left","baseline":"top","dy":1,"dx":1,"fontSize":11.5},
    "encoding":{"x":{"datum":59,"axis":null},"y":{"field":"y","type":"quantitative","axis":null},"text":{"field":"sub"}}}
  ],
  "resolve":{"axis":{"x":"independent","y":"independent"}}},
 {"width":353,"height":266,
  "layer":[
   {"data":{"name":"br"},"transform":[{"fold":["r","b","g","m"],"as":["s","v"]}],
    "mark":{"type":"line","interpolate":"step-after","strokeWidth":1.4,"clip":true},
    "encoding":{
     "x":{"field":"x","type":"quantitative","scale":{"domain":[50,110],"nice":false,"zero":false},"axis":{"orient":"bottom","values":[50,60,70,80,90,100,110],"title":"Mₗₗ[GeV]"}},
     "y":{"field":"v","type":"quantitative","scale":{"domain":[-30,70],"nice":false,"zero":false},"axis":{"orient":"left","values":[-20,0,20,40,60],"title":"δ[%]","titleX":-42,"titleY":-24}},
     "color":{"field":"s","type":"nominal","scale":{"domain":["r","g","b","m"],"range":["#ff0000","#00ee00","#0000ff","#ff00ff"]},"legend":null},
     "strokeDash":{"field":"s","type":"nominal","scale":{"domain":["r","g","b","m"],"range":[[1,0],[7,4],[4,3],[1.5,2]]},"legend":null}}},
   {"data":{"name":"br_leg"},"mark":{"type":"rule","strokeWidth":1.4},
    "encoding":{"x":{"datum":70.2,"axis":null},"x2":{"datum":77.8},"y":{"field":"y","type":"quantitative","axis":null},
     "color":{"field":"s","type":"nominal","legend":null},"strokeDash":{"field":"s","type":"nominal","legend":null}}},
   {"data":{"name":"br_leg"},"mark":{"type":"text","align":"right","baseline":"middle","fontSize":20,"fontStyle":"italic"},
    "encoding":{"x":{"datum":59,"axis":null},"y":{"field":"y","type":"quantitative","axis":{"orient":"right","values":[-20,0,20,40,60],"labels":false,"title":null}},"text":{"field":"m"}}},
   {"data":{"name":"br_leg"},"mark":{"type":"text","align":"left","baseline":"alphabetic","dy":-3,"dx":1,"fontSize":11.5},
    "encoding":{"x":{"datum":59,"axis":null},"y":{"field":"y","type":"quantitative","axis":null},"text":{"field":"sup"}}},
   {"data":{"name":"br_leg"},"mark":{"type":"text","align":"left","baseline":"top","dy":1,"dx":1,"fontSize":11.5},
    "encoding":{"x":{"datum":59,"axis":null},"y":{"field":"y","type":"quantitative","axis":null},"text":{"field":"sub"}}}
  ],
  "resolve":{"axis":{"x":"independent","y":"independent"}}}
]
}
